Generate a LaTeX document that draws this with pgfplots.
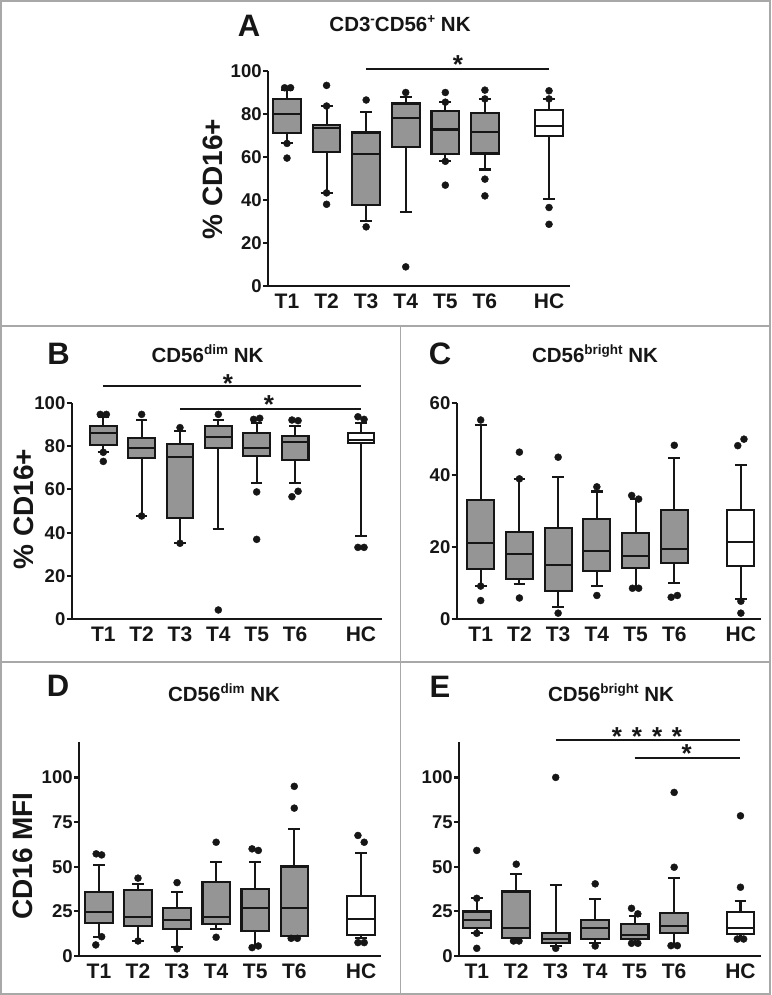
\documentclass[border=0pt]{standalone}
\usepackage{fontspec}
\setmainfont{Liberation Sans}
\usepackage{pgfplots}
\pgfplotsset{compat=1.18}
\usepgfplotslibrary{statistics}
\definecolor{boxgray}{HTML}{959595}
\definecolor{linec}{HTML}{161616}
\definecolor{framec}{HTML}{A8A8A8}
\newcommand{\gbox}[6]{\addplot[boxplot/draw direction=y, boxplot prepared={draw position=#1, lower whisker=#2, lower quartile=#3, median=#4, upper quartile=#5, upper whisker=#6}, draw=linec, fill=boxgray, line width=2.1pt] coordinates {};}
\newcommand{\wbox}[6]{\addplot[boxplot/draw direction=y, boxplot prepared={draw position=#1, lower whisker=#2, lower quartile=#3, median=#4, upper quartile=#5, upper whisker=#6}, draw=linec, fill=white, line width=2.1pt] coordinates {};}
\newcommand{\outl}[1]{\addplot[only marks, mark=*, mark size=3.5pt, color=linec] coordinates {#1};}
\newcommand{\sig}[3]{\addplot[linec, line width=2pt] coordinates {(#1,#3) (#2,#3)};}
\newcommand{\sigstar}[2]{\node[anchor=base, font=\bfseries\fontsize{26}{26}\selectfont, text=linec, inner sep=0pt, yshift=-15pt] at (axis cs:#1,#2) {*};}
\newcommand{\sups}[1]{\raisebox{0.42em}{\fontsize{13.5}{13.5}\selectfont #1}}
\newcommand{\letterfont}{\bfseries\fontsize{31}{31}\selectfont}
\newcommand{\titlefont}{\bfseries\fontsize{20.5}{20.5}\selectfont}
\newcommand{\labfont}{\bfseries\fontsize{28}{28}\selectfont}
\pgfplotsset{panel/.style={scale only axis, anchor=south west, axis lines=left,
  axis line style={-, line width=2.4pt, draw=linec},
  tick align=outside, xtick style={draw=none}, ytick style={line width=2.2pt, draw=linec},
  major tick length=5pt, clip=false,
  /pgf/number format/assume math mode=true,
  yticklabel style={font=\bfseries\fontsize{18.5}{18.5}\selectfont, text=linec, inner sep=1.2pt},
  xticklabel style={font=\bfseries\fontsize{21}{21}\selectfont, text=linec, inner sep=2.5pt},
  boxplot/draw direction=y,
  boxplot/box extend=0.7, boxplot/whisker extend=0.3,
  boxplot/every box/.append style={line width=2.1pt},
  boxplot/every whisker/.append style={line width=2.1pt},
  boxplot/every median/.append style={line width=2.1pt},
  xticklabels={T1,T2,T3,T4,T5,T6,HC}}}
\begin{document}
\begin{tikzpicture}
\useasboundingbox (0,0) rectangle (771pt,995pt);
\fill[white] (0,0) rectangle (771pt,995pt);
\draw[framec, line width=1.6pt] (0.8pt,0.8pt) rectangle (770.2pt,994.2pt);
\draw[framec, line width=1.4pt] (0,669pt) -- (771pt,669pt);
\draw[framec, line width=1.4pt] (0,333pt) -- (771pt,333pt);
\draw[framec, line width=1.4pt] (400.5pt,0) -- (400.5pt,669pt);

% Panel A
\begin{axis}[panel, at={(268pt,709pt)}, width=302pt, height=215pt,
  xmin=0.52, xmax=8.15, ymin=0, ymax=100, ytick={0,20,40,60,80,100},
  xtick={1,2,3,4,5,6,7.62}]
\gbox{1}{66.3}{71.3}{80.1}{86.8}{91}
\gbox{2}{43.3}{62.4}{73.3}{74.8}{83.7}
\gbox{3}{30.3}{37.6}{61.2}{71.4}{81}
\gbox{4}{34.6}{64.8}{78}{84.9}{87.7}
\gbox{5}{58}{61.2}{72.8}{81.5}{85.4}
\gbox{6}{54.2}{61.6}{71.6}{80.3}{87}
\wbox{7.62}{40.5}{69.7}{74.5}{81.8}{87}
\outl{(0.94,92.2)(1.09,92.2)(1,66.3)(1,59.5)(2,93.3)(2,83.7)(2,43.3)(2,38)(3,86.5)(3,27.5)(4,90)(4,8.9)(5,90)(5,85.5)(5,58)(5,46.9)(6,91.1)(6,87)(6,49.7)(6,41.9)(7.62,90.8)(7.62,87)(7.62,36.5)(7.62,28.7)}
\sig{3}{7.62}{100.9}
\sigstar{5.32}{105.6}
\end{axis}

% Panel B
\begin{axis}[panel, at={(71.7pt,375.7pt)}, width=310pt, height=216.6pt,
  xmin=0.176, xmax=8.26, ymin=0, ymax=100, ytick={0,20,40,60,80,100},
  xtick={1,2,3,4,5,6,7.72}]
\gbox{1}{77.1}{80.3}{86.2}{89.2}{93.2}
\gbox{2}{47.7}{74.3}{78.9}{83.8}{92}
\gbox{3}{35.1}{46.6}{75.1}{80.8}{87.1}
\gbox{4}{41.8}{79.2}{84.3}{89.4}{92}
\gbox{5}{62.8}{75.5}{79.1}{86.2}{90.8}
\gbox{6}{62.8}{73.5}{81.8}{84.6}{89.4}
\wbox{7.72}{38.5}{81.5}{82.8}{85.8}{90.5}
\outl{(0.92,94.6)(1.08,94.6)(1,77.1)(1,72.9)(2,94.6)(2,47.7)(3,88.5)(3,35.1)(4,94.6)(4,4.3)(4.92,92.3)(5.08,92.8)(5,58.8)(5,36.9)(5.92,92)(6.08,91.7)(5.92,56.6)(6.08,59.1)(7.64,93.5)(7.8,92.3)(7.64,33.2)(7.8,33.2)}
\sig{1}{7.72}{107.7}
\sigstar{4.25}{111.4}
\sig{3}{7.72}{97.2}
\sigstar{5.32}{102}
\end{axis}

% Panel C
\begin{axis}[panel, at={(456.7pt,375.7pt)}, width=304.3pt, height=216.6pt,
  xmin=0.38, xmax=8.24, ymin=0, ymax=60, ytick={0,20,40,60},
  xtick={1,2,3,4,5,6,7.72}]
\gbox{1}{9.2}{13.9}{21.1}{33.1}{53.8}
\gbox{2}{9.8}{11.1}{18.1}{24.1}{38.9}
\gbox{3}{3.5}{7.8}{15}{25.2}{39.3}
\gbox{4}{9.2}{13.5}{19}{27.7}{35.4}
\gbox{5}{8.6}{14.3}{17.5}{24}{33.2}
\gbox{6}{10}{15.7}{19.5}{30.3}{44.6}
\wbox{7.72}{5.5}{14.8}{21.3}{30.3}{42.8}
\outl{(1,55.2)(1,9.2)(1,5.2)(2,46.3)(2,38.9)(2,5.9)(3,44.9)(3,1.7)(4,36.7)(4,6.6)(4.9,34.3)(5.08,33.3)(4.92,8.6)(5.08,8.6)(6,48.2)(5.92,6.1)(6.08,6.6)(7.64,48.1)(7.8,49.9)(7.72,5)(7.72,1.7)}
\end{axis}

% Panel D
\begin{axis}[panel, at={(79pt,39pt)}, width=302pt, height=214.3pt,
  xmin=0.49, xmax=8.22, ymin=0, ymax=120, ytick={0,25,50,75,100},
  xtick={1,2,3,4,5,6,7.71}]
\gbox{1}{10.8}{18.3}{24.5}{35.7}{51}
\gbox{2}{8.4}{17}{21.7}{37}{40.4}
\gbox{3}{4.9}{15.1}{20.2}{27.1}{35.7}
\gbox{4}{15.1}{17.8}{21.7}{41.3}{52.7}
\gbox{5}{5.6}{14.2}{26.7}{37.6}{52.7}
\gbox{6}{10.8}{11.2}{26.7}{50.1}{71}
\wbox{7.71}{9.9}{11.8}{20.6}{33.8}{57.6}
\outl{(0.93,57.2)(1.07,56.6)(1.07,10.8)(0.92,6.2)(2,43.6)(2,8.4)(3,41.1)(3,4)(4,63.7)(4,10.5)(4.92,60)(5.08,59.1)(4.92,4.7)(5.08,5.6)(6,95)(6,82.8)(5.92,9.9)(6.08,9.9)(7.63,67.5)(7.79,63.7)(7.63,7.5)(7.79,7.5)}
\end{axis}

% Panel E
\begin{axis}[panel, at={(459pt,39pt)}, width=302pt, height=214.3pt,
  xmin=0.55, xmax=8.2, ymin=0, ymax=120, ytick={0,25,50,75,100},
  xtick={1,2,3,4,5,6,7.68}]
\gbox{1}{12.7}{15.9}{20.2}{24.9}{32.3}
\gbox{2}{8.4}{10.3}{15.9}{36.1}{45.8}
\gbox{3}{5.6}{7.1}{9.3}{12.7}{39.8}
\gbox{4}{7.1}{9.3}{15.9}{20.2}{31.8}
\gbox{5}{7.7}{9.5}{11.8}{17.9}{22.6}
\gbox{6}{5.8}{13.1}{17}{24.3}{43.6}
\wbox{7.68}{9.5}{12.1}{15.5}{24.5}{31}
\outl{(1,59.1)(1,32.3)(1,12.7)(1,4.3)(2,51.4)(1.93,8.4)(2.07,8.4)(3,100)(3,4.3)(4,40.4)(4,5.6)(4.92,26.7)(5.08,23.6)(4.92,7.1)(5.08,7.1)(6,91.6)(6,49.7)(5.92,5.8)(6.08,5.8)(7.68,78.5)(7.68,38.5)(7.6,9.5)(7.76,9.5)}
\sig{3}{7.68}{120.9}
\sigstar{4.55}{126}
\sigstar{5.06}{126}
\sigstar{5.57}{126}
\sigstar{6.07}{126}
\sig{5}{7.68}{110.7}
\sigstar{6.32}{116.5}
\end{axis}

% Titles and labels
\node[anchor=base, font=\letterfont, text=linec] at (249pt,958pt) {A};
\node[anchor=base, font=\titlefont, text=linec] at (400pt,963pt) {CD3\sups{-}CD56\sups{+} NK};
\node[anchor=base, font=\letterfont, text=linec] at (58.5pt,630pt) {B};
\node[anchor=base, font=\titlefont, text=linec] at (207.5pt,632pt) {CD56\sups{dim} NK};
\node[anchor=base, font=\letterfont, text=linec] at (440pt,630pt) {C};
\node[anchor=base, font=\titlefont, text=linec] at (595pt,632pt) {CD56\sups{bright} NK};
\node[anchor=base, font=\letterfont, text=linec] at (58pt,298pt) {D};
\node[anchor=base, font=\titlefont, text=linec] at (224pt,293pt) {CD56\sups{dim} NK};
\node[anchor=base, font=\letterfont, text=linec] at (440pt,297pt) {E};
\node[anchor=base, font=\titlefont, text=linec] at (611pt,293pt) {CD56\sups{bright} NK};
\node[rotate=90, font=\labfont, text=linec] at (213pt,816pt) {\% CD16+};
\node[rotate=90, font=\labfont, text=linec] at (23.5pt,486pt) {\% CD16+};
\node[rotate=90, font=\labfont, text=linec] at (23pt,139pt) {CD16 MFI};
\end{tikzpicture}
\end{document}
